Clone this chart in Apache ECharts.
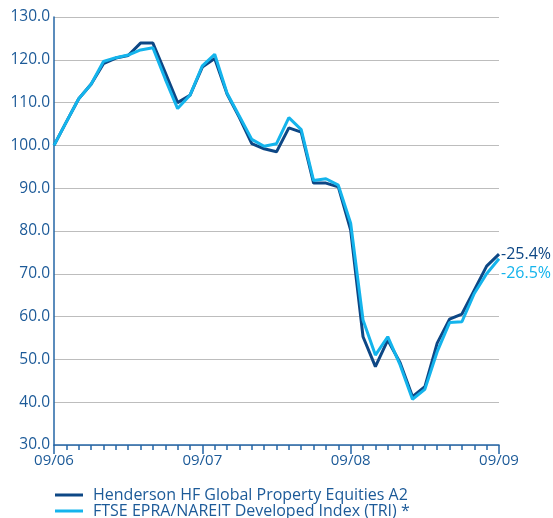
<!DOCTYPE html>
<html>
<head>
<meta charset="utf-8">
<script src="https://cdn.jsdelivr.net/npm/echarts@6/dist/echarts.min.js"></script>
<style>html,body{margin:0;padding:0;background:#fff}#c{width:553px;height:518px}</style>
</head>
<body>
<div id="c"></div>
<script>
// Monthly index, 09/06 = 100
const tickLabels = ['09/06', '09/07', '09/08', '09/09'];
const seriesNames = ['Henderson HF Global Property Equities A2', 'FTSE EPRA/NAREIT Developed Index (TRI) *'];
const henderson = [100.0, 105.5, 110.9, 114.3, 119.1, 120.4, 121.0, 123.9, 123.9, 117.0, 110.0,
  111.7, 118.3, 120.3, 112.0, 106.5, 100.4, 99.2, 98.5, 104.1, 103.1, 91.2, 91.2, 90.3,
  80.2, 55.3, 48.3, 54.5, 49.2, 41.3, 43.6, 53.8, 59.4, 60.6, 66.2, 71.8, 74.6];
const ftse = [100.0, 105.5, 110.9, 114.3, 119.6, 120.5, 121.1, 122.3, 122.8, 115.5, 108.6,
  111.7, 118.6, 121.3, 112.2, 106.8, 101.4, 99.8, 100.4, 106.5, 103.7, 91.8, 92.2, 90.7,
  81.8, 59.2, 51.0, 55.3, 48.7, 40.7, 43.0, 51.8, 58.6, 58.8, 65.4, 70.0, 73.5];
const endLabels = ['-25.4%', '-26.5%'];

const darkC = '#0d4785';
const lightC = '#14b4ec';
const textC = '#1c5a98';
const FONT = 'Open Sans';

const chart = echarts.init(document.getElementById('c'), null, {renderer: 'canvas'});
const toPairs = arr => arr.map((v, i) => [i, v]);
const legendBase = {
  orient: 'horizontal', left: 50, itemWidth: 28, itemHeight: 3, icon: 'rect',
  textStyle: {color: textC, fontSize: 16, fontFamily: FONT, padding: [0, 0, 0, 5]}
};
chart.setOption({
  animation: false,
  textStyle: {fontFamily: FONT},
  grid: {left: 54, right: 54, top: 17, bottom: 73, containLabel: false},
  xAxis: {
    type: 'value', min: 0, max: 36, interval: 12,
    axisLine: {lineStyle: {color: '#2566a6', width: 1.5}},
    axisTick: {show: true, length: 9, lineStyle: {color: '#2566a6', width: 1.5}},
    minorTick: {show: true, splitNumber: 12, length: 5, lineStyle: {color: '#2566a6', width: 1.5}},
    splitLine: {show: false},
    axisLabel: {
      color: textC, fontSize: 15, fontFamily: FONT, margin: 8,
      formatter: v => tickLabels[Math.round(v / 12)] || ''
    }
  },
  yAxis: {
    type: 'value', min: 30, max: 130, interval: 10,
    axisLine: {show: true, lineStyle: {color: '#2566a6', width: 1.5}},
    axisTick: {show: false},
    splitLine: {show: true, lineStyle: {color: '#bdbdbd', width: 1.2}},
    axisLabel: {color: textC, fontSize: 15.5, fontFamily: FONT, margin: 4, formatter: v => v.toFixed(1)}
  },
  legend: [
    Object.assign({}, legendBase, {top: 482, data: [{name: seriesNames[0], itemStyle: {color: darkC}}]}),
    Object.assign({}, legendBase, {top: 498, data: [{name: seriesNames[1], itemStyle: {color: lightC}}]})
  ],
  series: [
    {
      name: seriesNames[0], type: 'line', data: toPairs(henderson),
      symbol: 'none', lineStyle: {color: darkC, width: 3}, itemStyle: {color: darkC},
      endLabel: {show: true, formatter: endLabels[0], color: darkC, fontSize: 16, fontFamily: FONT, distance: 2}
    },
    {
      name: seriesNames[1], type: 'line', data: toPairs(ftse),
      symbol: 'none', lineStyle: {color: lightC, width: 3}, itemStyle: {color: lightC},
      endLabel: {show: true, formatter: endLabels[1], color: lightC, fontSize: 16, fontFamily: FONT, distance: 2, offset: [0, 15]}
    }
  ]
});
</script>
</body>
</html>
